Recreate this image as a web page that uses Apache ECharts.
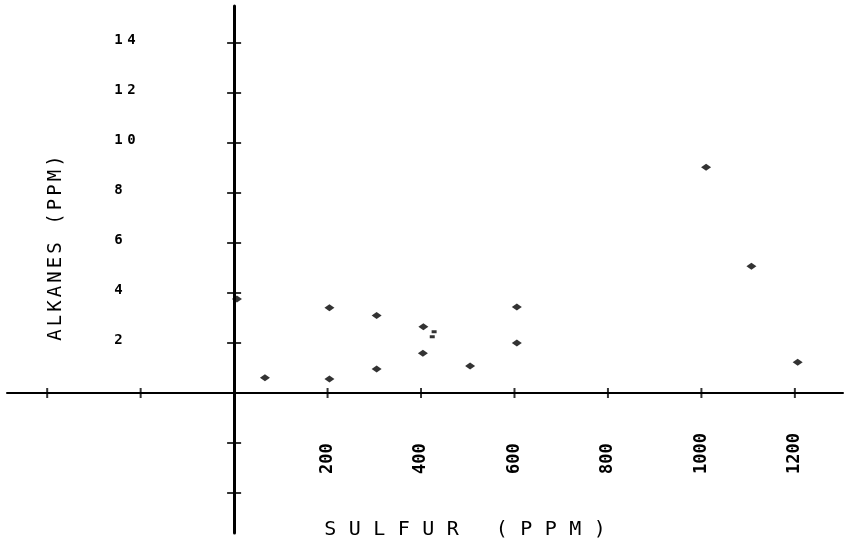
<!DOCTYPE html>
<html>
<head>
<meta charset="utf-8">
<title>Alkanes vs sulfur</title>
<script src="https://cdn.jsdelivr.net/npm/echarts@6/dist/echarts.min.js"></script>
<style>
  html, body { margin: 0; padding: 0; background: #fff; }
  #chart { width: 844px; height: 543px; }
</style>
</head>
<body>
<div id="chart"></div>
<script>
// values
const sulfurPpm = [66, 204, 204, 305, 305, 405, 404, 505, 605, 605, 1010, 1107, 1206, 6]
const alkanesPpm = [0.61, 3.41, 0.56, 3.1, 0.96, 2.65, 1.59, 1.08, 3.44, 2.0, 9.03, 5.07, 1.23, 3.76]
// two small specks beside the 400 ppm pair
const speckSulfur = [428, 424]
const speckAlkanes = [2.45, 2.25]

const xTicks = [-400, -200, 200, 400, 600, 800, 1000, 1200]
const xLabels = [200, 400, 600, 800, 1000, 1200]
const yTicks = [-4, -2, 2, 4, 6, 8, 10, 12, 14]
const yLabels = [2, 4, 6, 8, 10, 12, 14]

const xTitle = 'SULFUR (PPM)'
const yTitle = 'ALKANES (PPM)'

const FONT = 'DejaVu Sans Mono'
const INK = '#000'

// plotter text is widely spaced, so put every character in its own rich box
function spaced(str, key) {
  return str.split('').map(c => '{' + key + '|' + c + '}').join('')
}

const chart = echarts.init(document.getElementById('chart'))

// the axis lines sit on zero, but the labels are laid out from the grid edges,
// hence the negative margins
chart.setOption({
  animation: false,
  backgroundColor: '#fff',
  grid: { left: 7, right: 1, top: 6, bottom: 10, containLabel: false, outerBoundsMode: 'none' },
  xAxis: {
    type: 'value',
    min: -486,
    max: 1303,
    axisLine: { onZero: true, lineStyle: { color: INK, width: 2 } },
    axisTick: { show: false },
    axisLabel: {
      customValues: xLabels,
      rotate: 90,
      align: 'left',
      verticalAlign: 'middle',
      margin: -59,
      padding: [0, 0, 16, 0],
      formatter: v => String(v),
      color: INK,
      fontFamily: FONT,
      fontWeight: 'bold',
      fontSize: 17
    },
    splitLine: { show: false }
  },
  yAxis: {
    type: 'value',
    min: -5.6,
    max: 15.48,
    axisLine: { onZero: true, lineStyle: { color: INK, width: 3 } },
    axisTick: { show: false },
    axisLabel: {
      customValues: yLabels,
      align: 'left',
      verticalAlign: 'middle',
      margin: -105,
      padding: [0, 0, 6, 0],
      formatter: v => spaced(String(v), 'd'),
      rich: {
        d: { width: 13, align: 'center', color: INK, fontFamily: FONT, fontWeight: 'bold', fontSize: 14 }
      }
    },
    splitLine: { show: false }
  },
  graphic: [
    {
      type: 'text',
      x: 465,
      y: 530,
      style: {
        text: spaced(xTitle, 't'),
        align: 'center',
        verticalAlign: 'middle',
        fill: INK,
        rich: { t: { width: 24.5, align: 'center', fontFamily: FONT, fontSize: 20, fill: INK } }
      }
    },
    {
      type: 'text',
      x: 56,
      y: 248,
      rotation: Math.PI / 2,
      style: {
        text: spaced(yTitle, 't'),
        align: 'center',
        verticalAlign: 'middle',
        fill: INK,
        rich: { t: { width: 14.5, align: 'center', fontFamily: FONT, fontSize: 19, fill: INK } }
      }
    }
  ],
  series: [
    {
      // cross ticks on the sulfur axis
      name: 'xTicks',
      type: 'scatter',
      data: xTicks.map(v => [v, 0]),
      symbol: 'rect',
      symbolSize: [2, 10],
      itemStyle: { color: INK },
      silent: true
    },
    {
      // cross ticks on the alkanes axis
      name: 'yTicks',
      type: 'scatter',
      data: yTicks.map(v => [0, v]),
      symbol: 'rect',
      symbolSize: [14, 2],
      itemStyle: { color: INK },
      silent: true
    },
    {
      name: 'samples',
      type: 'scatter',
      data: sulfurPpm.map((x, i) => [x, alkanesPpm[i]]),
      symbol: 'diamond',
      symbolSize: [10, 7],
      itemStyle: { color: INK },
      silent: true
    },
    {
      name: 'specks',
      type: 'scatter',
      data: speckSulfur.map((x, i) => [x, speckAlkanes[i]]),
      symbol: 'rect',
      symbolSize: [5, 3],
      itemStyle: { color: INK },
      silent: true
    }
  ]
})
</script>
</body>
</html>
